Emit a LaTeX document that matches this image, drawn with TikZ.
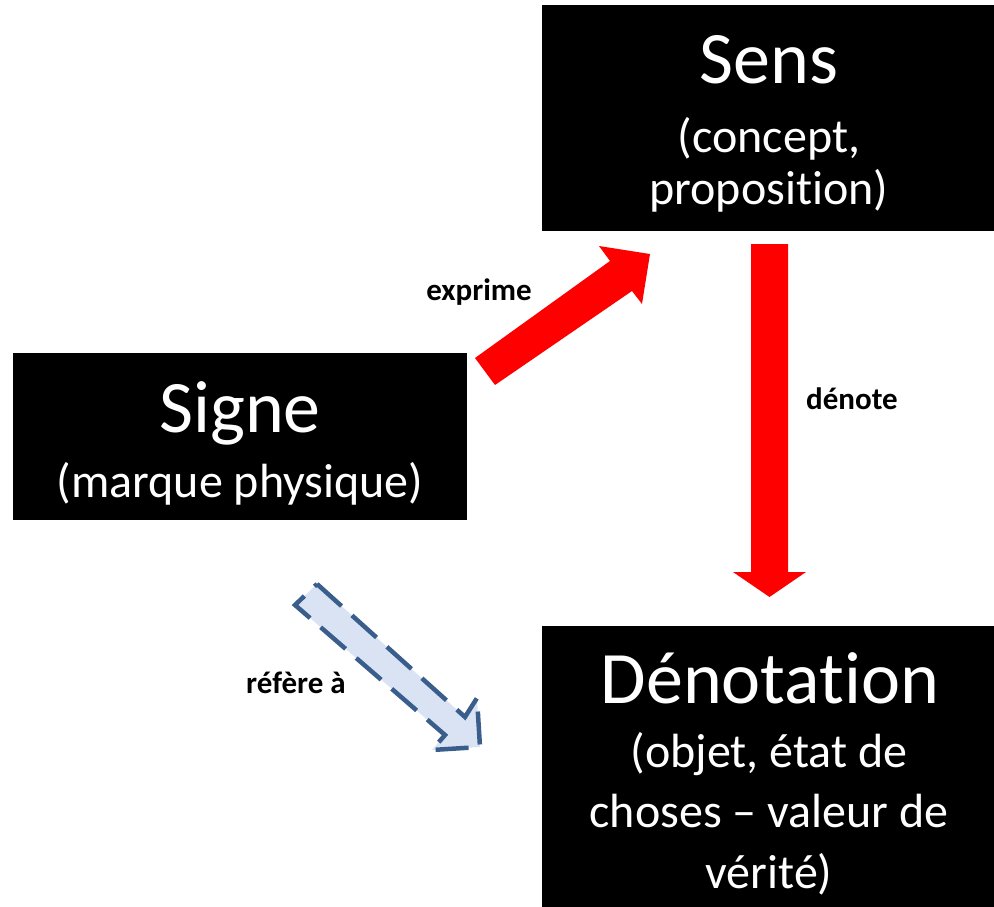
\documentclass[tikz,border=0pt]{standalone}
\usepackage{fontspec}
\setmainfont{Carlito}[Ligatures=NoCommon]
\definecolor{dashblue}{RGB}{58,94,140}
\definecolor{lightblue}{RGB}{218,227,243}
\definecolor{arrowred}{RGB}{255,0,0}
\begin{document}
\begin{tikzpicture}[x=1pt,y=-1pt,
  box/.style={fill=black, draw=none, inner sep=0pt},
  title/.style={text=white, font=\fontsize{74}{74}\selectfont, inner sep=0pt, anchor=base},
  sub/.style={text=white, font=\fontsize{48}{48}\selectfont, inner sep=0pt, anchor=base},
  lab/.style={text=black, font=\bfseries\fontsize{31}{31}\selectfont, inner sep=0pt, anchor=base},
  redarrow/.style={fill=arrowred, draw=none},
  dasharrow/.style={draw=dashblue, fill=lightblue, line width=4.5pt, dash pattern=on 33pt off 14pt, line join=miter}
]
\useasboundingbox (0,0) rectangle (994,907);

% boxes
\node[box, minimum width=452pt, minimum height=226pt] (sens) at (768,118) {};
\node[box, minimum width=454pt, minimum height=167pt] (signe) at (240,436.5) {};
\node[box, minimum width=452pt, minimum height=281pt] (denot) at (768,766.5) {};

% texts
\node[title] (sensT) at (769,84) {Sens};
\node[sub] (sensS1) at (769,152) {(concept,};
\node[sub] (sensS2) at (769,204) {proposition)};

\node[title] (signeT) at (240,432) {Signe};
\node[sub] (signeS) at (240,497) {(marque physique)};

\node[title] (denotT) at (770,703) {Dénotation};
\node[sub] (denotS1) at (769,767) {(objet, état de};
\node[sub] (denotS2) at (769,827) {choses – valeur de};
\node[sub] (denotS3) at (769,888) {vérité)};

% arrow geometry
\coordinate (e1) at (475,358);
\coordinate (e2) at (610,261);
\coordinate (e3) at (599,246);
\coordinate (etip) at (650,254);
\coordinate (e5) at (642,304);
\coordinate (e6) at (632,291);
\coordinate (e7) at (495,385);
\fill[redarrow] (e1) -- (e2) -- (e3) -- (etip) -- (e5) -- (e6) -- (e7) -- cycle;

\coordinate (d1) at (751,244);
\coordinate (d2) at (788,244);
\coordinate (d3) at (788,572);
\coordinate (d4) at (806,572);
\coordinate (dtip) at (769.5,597);
\coordinate (d6) at (733,572);
\coordinate (d7) at (751,572);
\fill[redarrow] (d1) -- (d2) -- (d3) -- (d4) -- (dtip) -- (d6) -- (d7) -- cycle;

\coordinate (r1) at (317,584);
\coordinate (r2) at (465,717);
\coordinate (r3) at (477,698);
\coordinate (rtip) at (480,747);
\coordinate (r5) at (432,750);
\coordinate (r6) at (445,735);
\coordinate (r7) at (295,605);
\draw[dasharrow] (r1) -- (r2) -- (r3) -- (rtip) -- (r5) -- (r6) -- (r7) -- cycle;

% labels
\node[lab] (lexp) at (479,300) {exprime};
\node[lab] (lden) at (852,409) {dénote};
\node[lab] (lref) at (296,693) {réfère à};
\end{tikzpicture}
\end{document}
